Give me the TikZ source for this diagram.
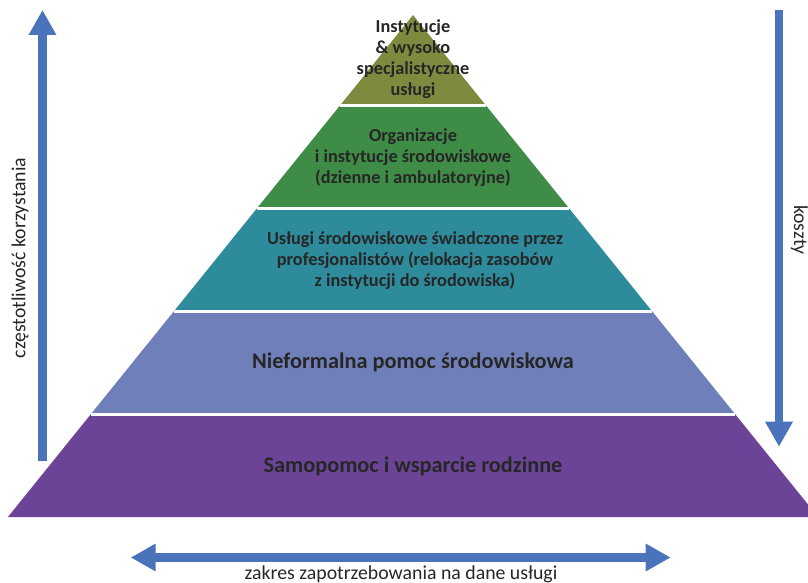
\documentclass[tikz,border=0pt]{standalone}
\usepackage{fontspec}
\setmainfont{Carlito}
\usetikzlibrary{arrows.meta,calc}

\definecolor{lvlA}{RGB}{127,138,62}
\definecolor{lvlB}{RGB}{63,140,70}
\definecolor{lvlC}{RGB}{46,139,155}
\definecolor{lvlD}{RGB}{111,127,186}
\definecolor{lvlE}{RGB}{108,68,151}
\definecolor{arrblue}{RGB}{74,115,187}
\definecolor{txtdark}{RGB}{38,38,38}

\tikzset{
  gap/.style={draw=white, line width=3pt},
  smalltxt/.style={align=center, text=txtdark, font=\fontsize{18.3}{21}\selectfont\bfseries},
  bigtxt/.style={align=center, text=txtdark, font=\fontsize{22.3}{26}\selectfont\bfseries},
  sidetxt/.style={text=txtdark, font=\fontsize{19.8}{23}\selectfont},
  shaft/.style={draw=arrblue, line width=8.4pt},
  tip/.tip={Triangle[length=25pt,width=26pt]},
}

\begin{document}
\begin{tikzpicture}[x=1pt,y=-1pt]
\useasboundingbox (0,0) rectangle (808,583);

\coordinate (apex) at (413,15);

% LAYER BOUNDARIES

\coordinate (b1l) at ($(apex)+(-73.4,91)$);
\coordinate (b1r) at ($(apex)+(73.4,91)$);
\coordinate (b2l) at ($(apex)+(-155.8,193)$);
\coordinate (b2r) at ($(apex)+(155.8,193)$);
\coordinate (b3l) at ($(apex)+(-238.9,296)$);
\coordinate (b3r) at ($(apex)+(238.9,296)$);
\coordinate (b4l) at ($(apex)+(-322,399)$);
\coordinate (b4r) at ($(apex)+(322,399)$);
\coordinate (b5l) at ($(apex)+(-405.1,502)$);
\coordinate (b5r) at ($(apex)+(405.1,502)$);

% LAYERS

\fill[lvlA] (apex) -- (b1r) -- (b1l) -- cycle;
\fill[lvlB] (b1l) -- (b1r) -- (b2r) -- (b2l) -- cycle;
\fill[lvlC] (b2l) -- (b2r) -- (b3r) -- (b3l) -- cycle;
\fill[lvlD] (b3l) -- (b3r) -- (b4r) -- (b4l) -- cycle;
\fill[lvlE] (b4l) -- (b4r) -- (b5r) -- (b5l) -- cycle;

\draw[gap] (b1l) -- (b1r);
\draw[gap] (b2l) -- (b2r);
\draw[gap] (b3l) -- (b3r);
\draw[gap] (b4l) -- (b4r);

% LABELS

\node[smalltxt] (l1) at (413,59) {Instytucje\\\& wysoko\\specjalistyczne\\usługi};
\node[smalltxt] (l2) at (413,158) {Organizacje\\i instytucje środowiskowe\\(dzienne i ambulatoryjne)};
\node[smalltxt] (l3) at (415,261) {Usługi środowiskowe świadczone przez\\profesjonalistów (relokacja zasobów\\z instytucji do środowiska)};
\node[bigtxt] (l4) at (413,362) {Nieformalna pomoc środowiskowa};
\node[bigtxt] (l5) at (413,466) {Samopomoc i wsparcie rodzinne};

% ARROWS

\coordinate (up-s) at (42.5,461);
\coordinate (up-e) at (42.5,10);
\draw[shaft,-tip] (up-s) -- (up-e);

\coordinate (down-s) at (779,10);
\coordinate (down-e) at (779,446.7);
\draw[shaft,-tip] (down-s) -- (down-e);

\coordinate (span-w) at (130.7,557.5);
\coordinate (span-e) at (670.7,557.5);
\draw[shaft,tip-tip] (span-w) -- (span-e);

\node[sidetxt,rotate=90] (freq) at (20,258) {częstotliwość korzystania};
\node[sidetxt,rotate=-90,inner sep=0pt,anchor=north] (cost) at (808,230) {koszty};
\node[sidetxt] (range) at (401,574) {zakres zapotrzebowania na dane usługi};

\end{tikzpicture}
\end{document}
